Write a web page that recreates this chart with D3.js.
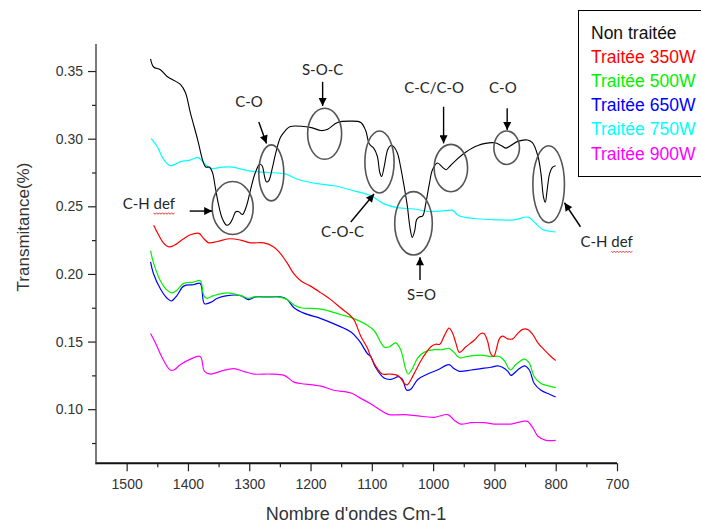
<!DOCTYPE html>
<html>
<head>
<meta charset="utf-8">
<script src="https://cdn.jsdelivr.net/npm/d3@7/dist/d3.min.js"></script>
<style>
  html, body { margin: 0; padding: 0; background: #fff; }
  svg { display: block; }
</style>
</head>
<body>
<svg id="chart" width="701" height="524"></svg>
<script>
// FTIR spectra: wavenumber (cm-1) vs transmittance, untreated and treated samples
const xTicks = [1500, 1400, 1300, 1200, 1100, 1000, 900, 800, 700];
const xMinorTicks = [1450, 1350, 1250, 1150, 1050, 950, 850, 750];
const yTicks = [0.10, 0.15, 0.20, 0.25, 0.30, 0.35];
const yMinorTicks = [0.075, 0.125, 0.175, 0.225, 0.275, 0.325];

const seriesNames = ["Non traitée", "Traitée 350W", "Traitée 500W", "Traitée 650W", "Traitée 750W", "Traitée 900W"];

const nonTraitee = [
  [1461,0.359],[1456,0.353],[1445,0.351],[1434,0.346],[1412,0.340],[1404,0.334],[1396,0.319],
  [1384,0.299],[1376,0.284],[1371,0.279],[1365,0.279],[1360,0.275],[1355,0.263],[1350,0.251],
  [1344,0.241],[1337,0.236],[1332,0.237],[1327,0.241],[1322,0.246],[1317,0.246],[1311,0.244],
  [1304,0.251],[1298,0.262],[1290,0.275],[1283,0.281],[1279,0.280],[1275,0.272],[1272,0.268],
  [1268,0.269],[1262,0.279],[1257,0.289],[1249,0.301],[1241,0.306],[1233,0.309],[1211,0.309],
  [1197,0.308],[1183,0.306],[1172,0.307],[1156,0.312],[1134,0.313],[1118,0.312],[1110,0.306],
  [1105,0.297],[1102,0.295],[1097,0.293],[1091,0.287],[1087,0.275],[1084,0.272],[1080,0.279],
  [1074,0.292],[1069,0.295],[1064,0.294],[1058,0.289],[1053,0.279],[1047,0.264],[1042,0.250],
  [1038,0.235],[1034,0.227],[1030,0.232],[1027,0.240],[1023,0.242],[1017,0.243],[1012,0.252],
  [1006,0.267],[1001,0.277],[993,0.282],[985,0.279],[979,0.277],[974,0.279],[963,0.284],
  [947,0.290],[927,0.295],[900,0.297],[889,0.295],[881,0.293],[873,0.295],[862,0.298],
  [846,0.299],[838,0.297],[829,0.287],[824,0.274],[820,0.257],[817,0.253],[814,0.262],
  [810,0.274],[805,0.279],[800,0.280]
];

const traitee350 = [
  [1456,0.236],[1448,0.229],[1440,0.223],[1431,0.220],[1423,0.221],[1407,0.226],[1396,0.229],
  [1382,0.230],[1374,0.226],[1366,0.223],[1352,0.224],[1333,0.226],[1314,0.225],[1298,0.223],
  [1276,0.223],[1260,0.220],[1249,0.215],[1238,0.208],[1227,0.200],[1216,0.195],[1200,0.191],
  [1183,0.186],[1167,0.181],[1151,0.175],[1137,0.170],[1129,0.166],[1118,0.154],[1107,0.145],
  [1102,0.139],[1091,0.130],[1083,0.126],[1069,0.126],[1058,0.125],[1053,0.123],[1047,0.119],
  [1042,0.118],[1036,0.122],[1028,0.129],[1017,0.138],[1004,0.146],[996,0.148],[989,0.148],
  [982,0.154],[974,0.160],[968,0.156],[963,0.149],[957,0.142],[947,0.146],[933,0.151],
  [922,0.156],[917,0.156],[911,0.150],[906,0.141],[901,0.139],[897,0.144],[892,0.152],
  [887,0.154],[878,0.152],[870,0.152],[862,0.156],[854,0.159],[846,0.159],[837,0.155],
  [829,0.149],[819,0.144],[808,0.139],[800,0.136]
];

const traitee500 = [
  [1461,0.217],[1456,0.208],[1445,0.195],[1434,0.188],[1426,0.186],[1418,0.188],[1407,0.193],
  [1391,0.194],[1380,0.195],[1374,0.184],[1369,0.182],[1358,0.184],[1336,0.186],[1314,0.184],
  [1301,0.182],[1292,0.183],[1271,0.183],[1254,0.183],[1238,0.181],[1227,0.177],[1216,0.175],
  [1183,0.174],[1151,0.170],[1129,0.167],[1107,0.162],[1096,0.158],[1085,0.149],[1080,0.146],
  [1072,0.146],[1061,0.149],[1053,0.144],[1045,0.130],[1041,0.126],[1035,0.129],[1025,0.138],
  [1015,0.142],[998,0.144],[985,0.144],[974,0.145],[966,0.142],[957,0.138],[944,0.139],
  [922,0.140],[906,0.139],[892,0.139],[884,0.136],[874,0.129],[865,0.133],[851,0.137],
  [843,0.134],[835,0.124],[824,0.119],[810,0.117],[800,0.116]
];

const traitee650 = [
  [1461,0.209],[1456,0.200],[1445,0.189],[1434,0.182],[1427,0.180],[1418,0.184],[1407,0.191],
  [1391,0.192],[1380,0.193],[1373,0.178],[1363,0.179],[1352,0.182],[1336,0.184],[1314,0.184],
  [1301,0.181],[1290,0.183],[1271,0.183],[1249,0.183],[1238,0.181],[1227,0.175],[1211,0.171],
  [1183,0.167],[1156,0.162],[1134,0.157],[1123,0.152],[1118,0.149],[1107,0.141],[1102,0.139],
  [1094,0.131],[1080,0.123],[1069,0.122],[1056,0.124],[1050,0.122],[1043,0.114],[1036,0.115],
  [1025,0.122],[1009,0.126],[993,0.129],[974,0.133],[966,0.130],[957,0.128],[938,0.129],
  [922,0.130],[906,0.131],[895,0.132],[887,0.131],[878,0.128],[873,0.125],[862,0.129],
  [851,0.132],[843,0.129],[835,0.119],[824,0.114],[810,0.111],[800,0.109]
];

const traitee750 = [
  [1460,0.300],[1450,0.294],[1440,0.285],[1429,0.280],[1412,0.283],[1398,0.284],[1383,0.286],
  [1376,0.283],[1363,0.278],[1344,0.279],[1327,0.279],[1298,0.276],[1268,0.275],[1241,0.274],
  [1221,0.270],[1192,0.267],[1159,0.265],[1126,0.261],[1102,0.258],[1081,0.252],[1058,0.249],
  [1031,0.248],[1004,0.246],[976,0.247],[968,0.247],[958,0.243],[932,0.241],[897,0.240],
  [868,0.240],[845,0.242],[834,0.238],[822,0.233],[800,0.231]
];

const traitee900 = [
  [1461,0.156],[1453,0.149],[1442,0.138],[1429,0.129],[1423,0.129],[1412,0.133],[1396,0.137],
  [1380,0.139],[1373,0.128],[1363,0.126],[1347,0.128],[1325,0.130],[1309,0.128],[1292,0.126],
  [1265,0.126],[1243,0.125],[1227,0.120],[1216,0.119],[1183,0.117],[1162,0.114],[1134,0.112],
  [1118,0.108],[1102,0.104],[1085,0.099],[1072,0.096],[1047,0.096],[1025,0.095],[998,0.094],
  [976,0.096],[966,0.092],[955,0.089],[938,0.090],[917,0.090],[900,0.089],[884,0.089],
  [873,0.089],[854,0.091],[846,0.091],[837,0.086],[829,0.080],[816,0.077],[800,0.077]
];

const seriesColors = ["#000000", "#ff0000", "#00f000", "#0000ff", "#00ffff", "#ff00ff"];
const seriesData = [nonTraitee, traitee350, traitee500, traitee650, traitee750, traitee900];

// Band assignments: centre of the highlighted region (wavenumber, transmittance)
const bandLabels = ["C-H def", "C-O", "S-O-C", "C-O-C", "S=O", "C-C/C-O", "C-O", "C-H def"];
const bandWn = [1327, 1264, 1177, 1087.5, 1032, 971, 880, 811.5];
const bandT = [0.2487, 0.2747, 0.3036, 0.2828, 0.2374, 0.2783, 0.2933, 0.2663];

// Drawing offsets (px) for each band's ellipse, label and pointer arrow
const bandLayout = [
  { rx: 20.5, ry: 26.5, lx: -110, ly: 1, anchor: "start", arrow: [-43, 3, -20.5, 3], wavy: true },
  { rx: 12.5, ry: 28, lx: -22.3, ly: -66, anchor: "middle", arrow: [-12.5, -51, -4.8, -29.5] },
  { rx: 17, ry: 25.5, lx: -2, ly: -58.8, anchor: "middle", arrow: [-2, -52, -2, -27.8] },
  { rx: 14.6, ry: 31, lx: -37, ly: 75.5, anchor: "middle", arrow: [-28.7, 60, -5.4, 32] },
  { rx: 18.8, ry: 31.7, lx: 8, ly: 76.7, anchor: "middle", arrow: [6.5, 56.7, 6.5, 34] },
  { rx: 16.7, ry: 23.7, lx: -16.7, ly: -74.7, anchor: "middle", arrow: [-7.3, -61.3, -7.3, -24.7] },
  { rx: 12.8, ry: 16.7, lx: -3.8, ly: -54.4, anchor: "middle", arrow: [0.5, -39.4, 0.5, -17.7] },
  { rx: 15.8, ry: 38.5, lx: 31.8, ly: 63.1, anchor: "start", arrow: [31.8, 42.5, 15.8, 18.5], wavy: true }
];

const svg = d3.select("#chart");
const x = d3.scaleLinear().domain([1550, 700]).range([96, 617]);
const y = d3.scaleLinear().domain([0.06, 0.37]).range([463.3, 44]);

const axisFont = "'Liberation Sans', Arial, sans-serif";
const noteFont = "Lato, 'Open Sans', sans-serif";

// Arrow head
svg.append("defs").append("marker")
  .attr("id", "head")
  .attr("viewBox", "0 0 10 10")
  .attr("refX", 10).attr("refY", 5)
  .attr("markerWidth", 9).attr("markerHeight", 8)
  .attr("markerUnits", "userSpaceOnUse")
  .attr("orient", "auto")
  .append("path").attr("d", "M0,0 L10,5 L0,10 Z").attr("fill", "#000");

// X axis: major and minor ticks
const gx = svg.append("g").attr("transform", `translate(0,${y.range()[0]})`);
gx.call(d3.axisBottom(x).tickValues(xTicks).tickSize(8).tickPadding(8).tickFormat(d3.format("d")));
gx.append("g").call(d3.axisBottom(x).tickValues(xMinorTicks).tickSize(4).tickFormat(""));
gx.selectAll(".domain").remove();
gx.selectAll("line").attr("stroke", "#222").attr("stroke-width", 1.2);
gx.selectAll("text").attr("font-family", axisFont).attr("font-size", 14).attr("fill", "#333");
svg.append("line")
  .attr("x1", x.range()[0] - 0.5).attr("x2", x.range()[1])
  .attr("y1", y.range()[0]).attr("y2", y.range()[0])
  .attr("stroke", "#111").attr("stroke-width", 2);

// Y axis: major and minor ticks
const gy = svg.append("g").attr("transform", `translate(${x.range()[0]},0)`);
gy.call(d3.axisLeft(y).tickValues(yTicks).tickSize(8).tickPadding(5).tickFormat(d3.format(".2f")));
gy.append("g").call(d3.axisLeft(y).tickValues(yMinorTicks).tickSize(4).tickFormat(""));
gy.selectAll(".domain").remove();
gy.selectAll("line").attr("stroke", "#222").attr("stroke-width", 1.2);
gy.selectAll("text").attr("font-family", axisFont).attr("font-size", 14).attr("fill", "#333");
svg.append("line")
  .attr("x1", x.range()[0]).attr("x2", x.range()[0])
  .attr("y1", y.range()[1]).attr("y2", y.range()[0] + 1)
  .attr("stroke", "#333").attr("stroke-width", 1.3);

// Axis titles
svg.append("text")
  .attr("x", 356).attr("y", 520)
  .attr("text-anchor", "middle")
  .attr("font-family", axisFont).attr("font-size", 18).attr("fill", "#333")
  .text("Nombre d'ondes Cm-1");
svg.append("text")
  .attr("transform", "translate(29,227) rotate(-90)")
  .attr("text-anchor", "middle")
  .attr("font-family", axisFont).attr("font-size", 17).attr("fill", "#333")
  .text("Transmitance(%)");

// Spectra
const line = d3.line()
  .x(d => x(d[0]))
  .y(d => y(d[1]))
  .curve(d3.curveCatmullRom.alpha(0.5));

const drawOrder = [4, 5, 3, 2, 1, 0];
drawOrder.forEach(i => {
  svg.append("path")
    .datum(seriesData[i])
    .attr("d", line)
    .attr("fill", "none")
    .attr("stroke", seriesColors[i])
    .attr("stroke-width", i === 0 ? 1.1 : 1.2)
    .attr("stroke-linejoin", "round");
});

// Band annotations
const notes = svg.append("g");
bandLabels.forEach((label, i) => {
  const L = bandLayout[i];
  const cx = x(bandWn[i]), cy = y(bandT[i]);
  notes.append("ellipse")
    .attr("cx", cx).attr("cy", cy).attr("rx", L.rx).attr("ry", L.ry)
    .attr("fill", "none").attr("stroke", "#555").attr("stroke-width", 1.6);
  notes.append("line")
    .attr("x1", cx + L.arrow[0]).attr("y1", cy + L.arrow[1])
    .attr("x2", cx + L.arrow[2]).attr("y2", cy + L.arrow[3])
    .attr("stroke", "#000").attr("stroke-width", 1.4)
    .attr("marker-end", "url(#head)");
  const t = notes.append("text")
    .attr("x", cx + L.lx).attr("y", cy + L.ly)
    .attr("text-anchor", L.anchor)
    .attr("font-family", noteFont).attr("font-size", 15).attr("fill", "#262626")
    .text(label);
  if (L.wavy) {
    // red spell-check squiggle under "def"
    const node = t.node();
    const x0 = node.getStartPositionOfChar(4).x;
    const x1 = node.getEndPositionOfChar(6).x;
    const yb = cy + L.ly + 4;
    const pts = [];
    for (let k = 0, xx = x0; xx <= x1 + 0.1; k++, xx += 1.5) {
      pts.push([xx, yb + (k % 2 ? 1.2 : -0.3)]);
    }
    notes.append("path")
      .attr("d", d3.line()(pts))
      .attr("fill", "none").attr("stroke", "#e02020").attr("stroke-width", 0.9);
  }
});

// Legend
const legend = svg.append("g");
legend.append("rect")
  .attr("x", 578.5).attr("y", 10.5).attr("width", 130).attr("height", 166)
  .attr("fill", "#fff").attr("stroke", "#000").attr("stroke-width", 1);
seriesNames.forEach((name, i) => {
  legend.append("text")
    .attr("x", 591).attr("y", 39 + i * 24.1)
    .attr("font-family", axisFont).attr("font-size", 17.5)
    .attr("fill", i === 0 ? "#111" : seriesColors[i])
    .text(name);
});
</script>
</body>
</html>
